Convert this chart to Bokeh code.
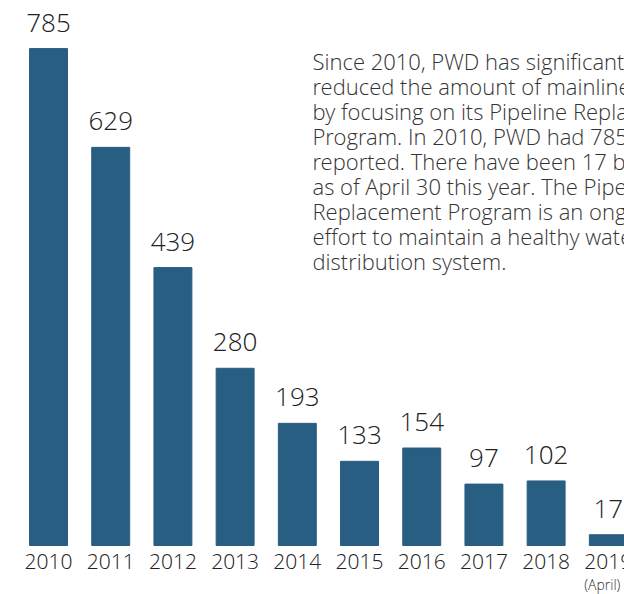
from bokeh.plotting import figure
from bokeh.models import Range1d, ColumnDataSource, Label
from bokeh.core.properties import value
from bokeh.embed import file_html
from bokeh.resources import INLINE

years = ["2010", "2011", "2012", "2013", "2014", "2015", "2016", "2017", "2018", "2019"]
breaks = [785, 629, 439, 280, 193, 133, 154, 97, 102, 17]
sub_labels = ["", "", "", "", "", "", "", "", "", "(April)"]
paragraph = [
    "Since 2010, PWD has significantly",
    "reduced the amount of mainline breaks",
    "by focusing on its Pipeline Replacement",
    "Program.  In 2010, PWD had 785 breaks",
    "reported. There have been 17 breaks",
    "as of April 30 this year.  The Pipeline",
    "Replacement Program is an ongoing",
    "effort to maintain a healthy water",
    "distribution system.",
]

FONT = "'Open Sans Light', 'Open Sans'"
BAR = "#285E82"
W, H = 624, 594

xs = list(range(len(years)))
src = ColumnDataSource(dict(x=xs, top=breaks, year=years, sub=sub_labels,
                            lab=[str(v) for v in breaks]))

p = figure(width=W, height=H, output_backend="svg", toolbar_location=None,
           x_range=Range1d(-0.772, 9.26), y_range=Range1d(-77.4, 861),
           min_border=0, outline_line_color=None)
p.axis.visible = False
p.grid.visible = False
p.background_fill_color = "white"
p.border_fill_color = "white"

p.vbar(x="x", top="top", bottom=0, width=0.61, color=BAR, source=src)

p.text(x="x", y="top", text="lab", source=src, text_align="center",
       text_baseline="alphabetic", y_offset=-26, text_font=value(FONT),
       text_font_size="26px", text_color="#222222")

p.text(x="x", y=0, text="year", source=src, text_align="center",
       text_baseline="top", y_offset=8, text_font=value(FONT),
       text_font_size="21px", text_color="#222222")

p.text(x="x", y=0, text="sub", source=src, text_align="center",
       text_baseline="top", x_offset=-6, y_offset=29, text_font=value(FONT),
       text_font_size="14px", text_color="#333333")

for i, line in enumerate(paragraph):
    p.add_layout(Label(x=312, y=H - 60 - 25 * i, x_units="screen", y_units="screen",
                       text=line, text_font=FONT, text_font_size="22px",
                       text_color="#333333", text_baseline="alphabetic"))

open("out.html", "w").write(file_html(p, INLINE))
